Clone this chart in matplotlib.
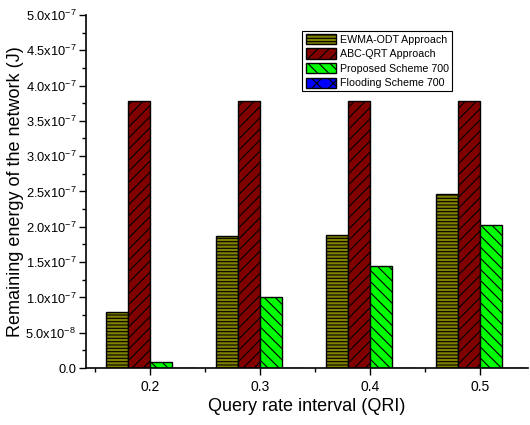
import matplotlib
matplotlib.use("Agg")
import matplotlib.pyplot as plt
from matplotlib.ticker import FuncFormatter, MultipleLocator
import numpy as np

plt.rcParams['font.family'] = ['Liberation Sans', 'DejaVu Sans']
plt.rcParams['mathtext.fontset'] = 'custom'
plt.rcParams['mathtext.rm'] = 'Liberation Sans'
plt.rcParams['mathtext.it'] = 'Liberation Sans:italic'
plt.rcParams['mathtext.bf'] = 'Liberation Sans:bold'
plt.rcParams['hatch.linewidth'] = 0.8

qri = [0.2, 0.3, 0.4, 0.5]
series_names = ["EWMA-ODT Approach", "ABC-QRT Approach", "Proposed Scheme 700", "Flooding Scheme 700"]
ewma = [7.9e-8, 1.87e-7, 1.88e-7, 2.46e-7]
abc = [3.78e-7, 3.78e-7, 3.78e-7, 3.78e-7]
proposed = [8e-9, 1.01e-7, 1.44e-7, 2.02e-7]
flooding = [0.0, 0.0, 0.0, 0.0]

colors = ["#808000", "#800000", "#00FF00", "#0000FF"]
hatches = ["-----", "///", "\\\\\\", "xx"]

fig = plt.figure(figsize=(5.3, 4.25), dpi=100)
ax = fig.add_axes([0.162, 0.134, 0.834, 0.831])

width = 0.02
offsets = [-0.03, -0.01, 0.01, 0.03]
x = np.array(qri)
for vals, name, c, h, off in zip([ewma, abc, proposed, flooding], series_names, colors, hatches, offsets):
    ax.bar(x + off, vals, width, color=c, edgecolor='black', hatch=h, linewidth=1.0, label=name)

ax.set_xlim(0.1418, 0.5436)
ax.set_ylim(0, 5e-7)
ax.set_xticks(qri)
ax.set_xticklabels([f"{v:.1f}" for v in qri])
ax.set_xticks([0.15, 0.25, 0.35, 0.45], minor=True)
ax.yaxis.set_major_locator(MultipleLocator(5e-8))
ax.yaxis.set_minor_locator(MultipleLocator(2.5e-8))

def fmt(v, pos):
    if abs(v) < 1e-15:
        return "0.0"
    e = int(np.floor(np.log10(abs(v)) + 1e-9))
    m = v / 10**e
    return f"{m:.1f}x10$^{{{e}}}$"

ax.yaxis.set_major_formatter(FuncFormatter(fmt))
ax.tick_params(axis='both', which='major', direction='out', length=5, width=1)
ax.tick_params(axis='x', which='major', labelsize=10)
ax.tick_params(axis='y', which='major', labelsize=9.3, pad=2)
ax.tick_params(axis='both', which='minor', direction='out', length=3, width=1)
ax.spines['top'].set_visible(False)
ax.spines['right'].set_visible(False)
ax.spines['left'].set_linewidth(1.2)
ax.spines['bottom'].set_linewidth(1.2)

ax.set_xlabel("Query rate interval (QRI)", fontsize=13, labelpad=3)
ax.set_ylabel("Remaining energy of the network (J)", fontsize=13)
ax.yaxis.set_label_coords(-0.14, 0.5)

leg = ax.legend(loc='upper left', bbox_to_anchor=(0.49, 0.955), fontsize=7.7,
                frameon=True, fancybox=False, edgecolor='black', framealpha=1,
                handlelength=2.8, handleheight=1.1, handletextpad=0.4,
                labelspacing=0.35, borderpad=0.3, borderaxespad=0)
leg.get_frame().set_linewidth(0.8)

fig.savefig("out.png", dpi=100)
